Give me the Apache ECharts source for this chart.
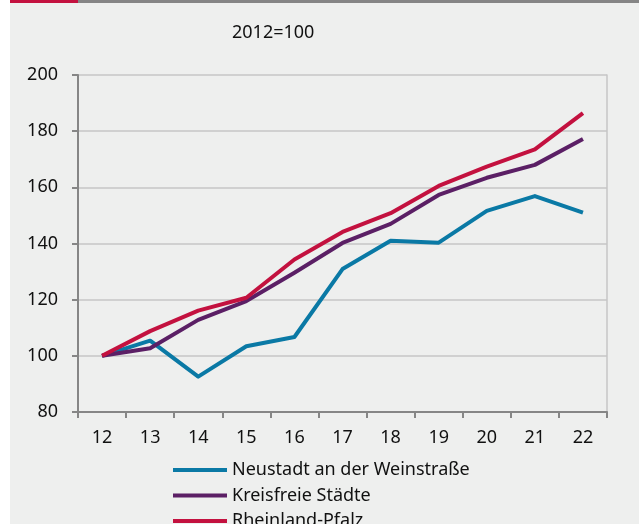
<!DOCTYPE html>
<html>
<head>
<meta charset="utf-8">
<script src="https://cdn.jsdelivr.net/npm/echarts@6/dist/echarts.min.js"></script>
<style>
  html, body { margin: 0; padding: 0; background: #ffffff; }
  #main { width: 639px; height: 524px; }
</style>
</head>
<body>
<div id="main"></div>
<script>
// Jahre (2012 = 100)
var years = ['12', '13', '14', '15', '16', '17', '18', '19', '20', '21', '22'];
var neustadt = [100, 105.4, 92.6, 103.4, 106.7, 130.9, 141.0, 140.3, 151.6, 156.9, 151.0];
var kreisfreie = [100, 102.7, 112.8, 119.5, 129.6, 140.2, 147.0, 157.3, 163.4, 168.0, 177.2];
var rheinland = [100, 108.8, 116.1, 120.7, 134.3, 144.1, 150.8, 160.5, 167.4, 173.5, 186.4];
var seriesNames = ['Neustadt an der Weinstraße', 'Kreisfreie Städte', 'Rheinland-Pfalz'];
var colors = ['#0a79a5', '#5b1f65', '#c3113f'];

var font = '"Noto Sans", "Open Sans", sans-serif';

function makeLine(name, data, color) {
    return {
        name: name,
        type: 'line',
        data: data,
        symbol: 'none',
        lineStyle: { color: color, width: 4, join: 'round' },
        itemStyle: { color: color }
    };
}

var option = {
    animation: false,
    backgroundColor: '#ffffff',
    textStyle: { fontFamily: font },
    graphic: [
        // Hintergrund und Kopfleiste
        { type: 'rect', z: -10, shape: { x: 10, y: 0, width: 629, height: 524 }, style: { fill: '#eeefee' } },
        { type: 'rect', z: -9, shape: { x: 10, y: 0, width: 68, height: 3 }, style: { fill: '#c3113f' } },
        { type: 'rect', z: -9, shape: { x: 78, y: 0, width: 561, height: 3 }, style: { fill: '#858585' } }
    ],
    title: {
        text: '2012=100',
        left: 232,
        top: 24,
        padding: 0,
        textStyle: { fontFamily: font, fontSize: 18, fontWeight: 'normal', color: '#111111' }
    },
    legend: {
        orient: 'vertical',
        left: 173,
        top: 461,
        height: 150,
        padding: 0,
        itemWidth: 54,
        itemHeight: 4,
        itemGap: 7.5,
        icon: 'rect',
        data: seriesNames,
        textStyle: { fontFamily: font, fontSize: 18, color: '#111111', padding: [0, 0, 0, 0] }
    },
    grid: { left: 78, right: 32, top: 75, bottom: 112, containLabel: false },
    xAxis: {
        type: 'category',
        data: years,
        boundaryGap: true,
        axisLine: { lineStyle: { color: '#868686', width: 2 } },
        axisTick: { show: true, length: 6, lineStyle: { color: '#868686', width: 2 } },
        axisLabel: { margin: 17, fontSize: 18, color: '#111111', fontFamily: font }
    },
    yAxis: [{
        type: 'value',
        min: 80,
        max: 200,
        interval: 20,
        axisLine: { show: true, lineStyle: { color: '#868686', width: 2 } },
        axisTick: { show: true, length: 6, lineStyle: { color: '#868686', width: 2 } },
        axisLabel: { margin: 20, fontSize: 18, color: '#111111', fontFamily: font },
        splitLine: { lineStyle: { color: '#c6c6c6', width: 1.5 } }
    }, {
        type: 'value',
        position: 'right',
        min: 80,
        max: 200,
        interval: 20,
        axisLine: { show: true, lineStyle: { color: '#c6c6c6', width: 1.5 } },
        axisTick: { show: false },
        axisLabel: { show: false },
        splitLine: { show: false }
    }],
    series: [
        makeLine(seriesNames[0], neustadt, colors[0]),
        makeLine(seriesNames[1], kreisfreie, colors[1]),
        makeLine(seriesNames[2], rheinland, colors[2])
    ]
};

var myChart = echarts.init(document.getElementById('main'));
myChart.setOption(option);
</script>
</body>
</html>
